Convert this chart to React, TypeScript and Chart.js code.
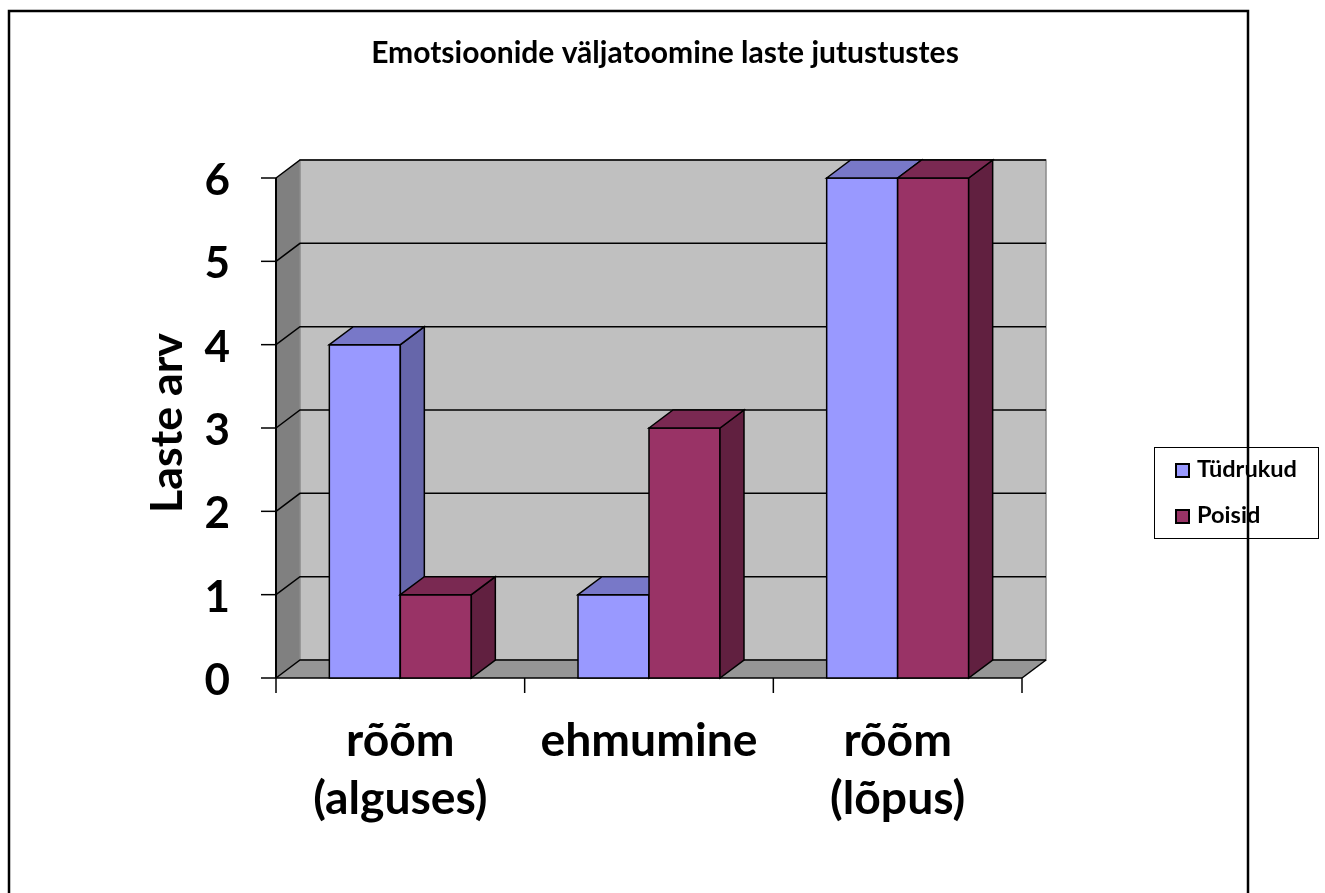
import { useEffect, useRef } from "react";
import { Chart, registerables } from "chart.js";

Chart.register(...registerables);

const TITLE = "Emotsioonide väljatoomine laste jutustustes";
const Y_TITLE = "Laste arv";
const CATEGORIES: string[][] = [["rõõm", "(alguses)"], ["ehmumine"], ["rõõm", "(lõpus)"]];
const SERIES_NAMES = ["Tüdrukud", "Poisid"];
const TUDRUKUD = [4, 1, 6];
const POISID = [1, 3, 6];
const Y_TICKS = [0, 1, 2, 3, 4, 5, 6];

const FRONT = ["#9999FF", "#993366"];
const TOP = ["#7878C8", "#7A2952"];
const SIDE = ["#6666AA", "#612040"];

const FONT = "Lato, 'Open Sans', sans-serif";
const DX = 24;
const DY = 18;

function fitSize(ctx: CanvasRenderingContext2D, text: string, target: number) {
  ctx.font = `bold 100px ${FONT}`;
  const w = ctx.measureText(text).width;
  return (100 * target) / w;
}

function poly(ctx: CanvasRenderingContext2D, pts: number[][], fill: string | null, stroke: string | null, lw = 1.5) {
  ctx.beginPath();
  ctx.moveTo(pts[0][0], pts[0][1]);
  for (let i = 1; i < pts.length; i++) ctx.lineTo(pts[i][0], pts[i][1]);
  ctx.closePath();
  if (fill) {
    ctx.fillStyle = fill;
    ctx.fill();
  }
  if (stroke) {
    ctx.strokeStyle = stroke;
    ctx.lineWidth = lw;
    ctx.stroke();
  }
}

function line(ctx: CanvasRenderingContext2D, pts: number[][], color: string, lw: number) {
  ctx.beginPath();
  ctx.moveTo(pts[0][0], pts[0][1]);
  for (let i = 1; i < pts.length; i++) ctx.lineTo(pts[i][0], pts[i][1]);
  ctx.strokeStyle = color;
  ctx.lineWidth = lw;
  ctx.stroke();
}

const scenePlugin = {
  id: "scene3d",
  beforeDatasetsDraw(chart: any) {
    const { ctx, chartArea, scales } = chart;
    const { left, right, top, bottom } = chartArea;
    const x = scales.x;
    const y = scales.y;
    ctx.save();
    // walls
    poly(ctx, [[left, top], [left + DX, top - DY], [left + DX, bottom - DY], [left, bottom]], "#808080", null);
    poly(ctx, [[left + DX, top - DY], [right + DX, top - DY], [right + DX, bottom - DY], [left + DX, bottom - DY]], "#C0C0C0", "#8a8a8a", 1.5);
    poly(ctx, [[left, bottom], [left + DX, bottom - DY], [right + DX, bottom - DY], [right, bottom]], "#969696", null);
    // gridlines
    for (const v of Y_TICKS) {
      const py = y.getPixelForValue(v);
      line(ctx, [[left, py], [left + DX, py - DY], [right + DX, py - DY]], "#000", 1.5);
      line(ctx, [[left - 15, py], [left, py]], "#000", 1.5);
    }
    line(ctx, [[right + DX, bottom - DY], [right, bottom]], "#000", 1.5);
    // axes
    line(ctx, [[left, top], [left, bottom]], "#000", 2);
    line(ctx, [[left, bottom], [right, bottom]], "#000", 1.5);
    // category ticks
    const n = CATEGORIES.length;
    const bounds: number[] = [left];
    for (let i = 0; i < n - 1; i++) bounds.push((x.getPixelForValue(i) + x.getPixelForValue(i + 1)) / 2);
    bounds.push(right);
    for (const b of bounds) line(ctx, [[b, bottom], [b, bottom + 15]], "#000", 1.5);

    ctx.fillStyle = "#000";
    // y tick labels
    ctx.font = `bold 44px ${FONT}`;
    ctx.textAlign = "right";
    ctx.textBaseline = "alphabetic";
    for (const v of Y_TICKS) {
      const py = y.getPixelForValue(v);
      ctx.fillText(String(v), 230, py + 17);
    }
    // y title
    const ys = fitSize(ctx, Y_TITLE, 180);
    ctx.save();
    ctx.translate(182, 423);
    ctx.rotate(-Math.PI / 2);
    ctx.font = `bold ${ys}px ${FONT}`;
    ctx.textAlign = "center";
    ctx.fillText(Y_TITLE, 0, 0);
    ctx.restore();
    // x labels
    const xs = fitSize(ctx, "ehmumine", 217);
    ctx.font = `bold ${xs}px ${FONT}`;
    ctx.textAlign = "center";
    CATEGORIES.forEach((lines, i) => {
      const px = x.getPixelForValue(i);
      lines.forEach((t, j) => ctx.fillText(t, px, 756 + j * 58));
    });
    // title
    const ts = fitSize(ctx, TITLE, 588);
    ctx.font = `bold ${ts}px ${FONT}`;
    ctx.textAlign = "center";
    ctx.fillText(TITLE, 665, 63);
    ctx.restore();
  },
  afterDatasetsDraw(chart: any) {
    const { ctx } = chart;
    ctx.save();
    const metas = SERIES_NAMES.map((_, d) => chart.getDatasetMeta(d));
    for (let i = 0; i < CATEGORIES.length; i++) {
      metas.forEach((meta: any, d: number) => {
        const el = meta.data[i];
        const { x: cx, y: ty, base, width } = el.getProps(["x", "y", "base", "width"], true);
        const x0 = cx - width / 2;
        const x1 = cx + width / 2;
        poly(ctx, [[x0, ty], [x1, ty], [x1, base], [x0, base]], FRONT[d], "#000", 1.5);
        poly(ctx, [[x1, ty], [x1 + DX, ty - DY], [x1 + DX, base - DY], [x1, base]], SIDE[d], "#000", 1.5);
        poly(ctx, [[x0, ty], [x0 + DX, ty - DY], [x1 + DX, ty - DY], [x1, ty]], TOP[d], "#000", 1.5);
      });
    }
    ctx.restore();
  },
  afterDraw(chart: any) {
    const { ctx } = chart;
    ctx.save();
    // legend
    ctx.fillStyle = "#fff";
    ctx.fillRect(1154, 447, 164, 91);
    ctx.strokeStyle = "#000";
    ctx.lineWidth = 1;
    ctx.strokeRect(1154.5, 447.5, 164, 91);
    const ls = fitSize(ctx, SERIES_NAMES[0], 100);
    ctx.font = `bold ${ls}px ${FONT}`;
    ctx.textAlign = "left";
    ctx.textBaseline = "alphabetic";
    SERIES_NAMES.forEach((name, d) => {
      const cy = 470 + d * 46;
      ctx.fillStyle = FRONT[d];
      ctx.fillRect(1176, cy - 6, 13, 13);
      ctx.strokeStyle = "#000";
      ctx.lineWidth = 2;
      ctx.strokeRect(1176, cy - 6, 13, 13);
      ctx.fillStyle = "#000";
      ctx.fillText(name, 1197, cy + 7);
    });
    // outer border
    ctx.strokeStyle = "#000";
    ctx.lineWidth = 2.5;
    ctx.strokeRect(9, 11, 1239, 1000);
    ctx.restore();
  },
};

export default function App() {
  const ref = useRef<HTMLCanvasElement>(null);
  useEffect(() => {
    if (!ref.current) return;
    const chart = new Chart(ref.current, {
      type: "bar",
      data: {
        labels: CATEGORIES,
        datasets: [
          { label: SERIES_NAMES[0], data: TUDRUKUD, backgroundColor: FRONT[0] },
          { label: SERIES_NAMES[1], data: POISID, backgroundColor: FRONT[1] },
        ],
      },
      options: {
        animation: false,
        responsive: false,
        maintainAspectRatio: false,
        devicePixelRatio: 1,
        layout: { padding: { left: 276, right: 303, top: 178, bottom: 215 } },
        categoryPercentage: 0.571,
        barPercentage: 1,
        plugins: {
          legend: { display: false },
          title: { display: false },
          tooltip: { enabled: false },
        },
        scales: {
          x: { display: false },
          y: { display: false, min: 0, max: 6, ticks: { stepSize: 1 } },
        },
      } as any,
      plugins: [scenePlugin],
    });
    return () => chart.destroy();
  }, []);
  return (
    <div style={{ position: "absolute", left: 0, top: 0, width: 1325, height: 893, background: "#fff" }}>
      <canvas ref={ref} width={1325} height={893} style={{ display: "block" }} />
    </div>
  );
}
